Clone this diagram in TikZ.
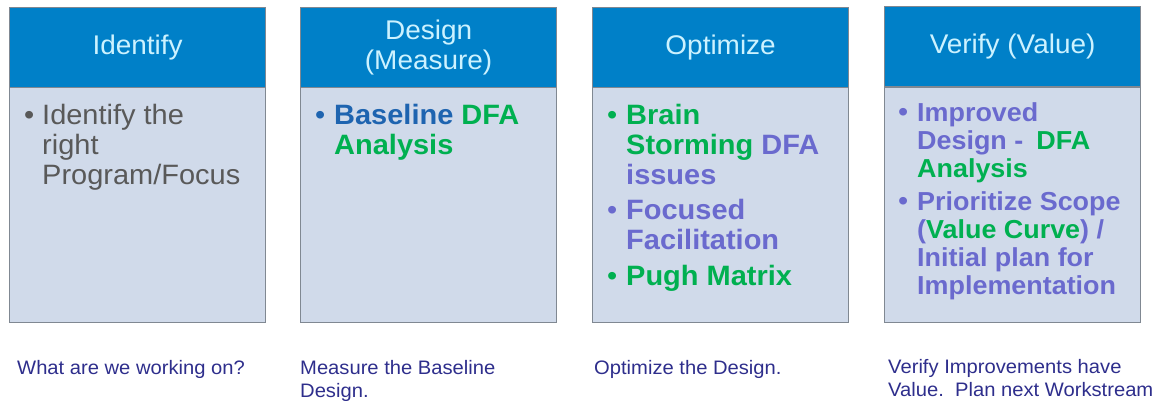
\documentclass[tikz,border=0pt]{standalone}
\usepackage{fontspec}
\setmainfont{Liberation Sans}[FakeStretch=1.035]
\definecolor{hdrblue}{RGB}{0,128,200}
\definecolor{hdrtext}{RGB}{204,242,255}
\definecolor{bodyfill}{RGB}{208,218,234}
\definecolor{frame}{RGB}{128,136,146}
\definecolor{txtgray}{RGB}{89,89,89}
\definecolor{baseblue}{RGB}{30,100,176}
\definecolor{dfagreen}{RGB}{0,176,80}
\definecolor{lilac}{RGB}{106,106,206}
\definecolor{navy}{RGB}{46,46,140}
\begin{document}
\begin{tikzpicture}[x=1pt,y=-1pt,
  hdrbox/.style={draw=frame, fill=hdrblue, line width=1.2pt, anchor=north west,
    minimum width=256, minimum height=80, inner sep=0pt, text=hdrtext, align=center,
    font=\fontsize{27}{30}\selectfont},
  bodybox/.style={draw=frame, fill=bodyfill, line width=1.2pt, anchor=north west,
    minimum width=256, minimum height=235, inner sep=0pt},
  ln/.style={anchor=base west, inner sep=0pt, font=\fontsize{28}{30}\selectfont},
  lb/.style={ln, font=\fontsize{28}{30}\selectfont\bfseries},
  ls/.style={ln, font=\fontsize{26}{28}\selectfont\bfseries},
  captxt/.style={anchor=base west, inner sep=0pt, text=navy, font=\fontsize{19.5}{23}\selectfont}]
\useasboundingbox (0,0) rectangle (1161,400);

% column frames: body panels first, headers on top
\node[bodybox] (b1) at (9,87) {};
\node[bodybox] (b2) at (300,87) {};
\node[bodybox] (b3) at (592,87) {};
\node[bodybox] (b4) at (884,87) {};
\node[hdrbox] (h1) at (9,7) {Identify};
\node[hdrbox] (h2) at (300,7) {Design\\(Measure)};
\node[hdrbox] (h3) at (592,7) {Optimize};
\node[hdrbox] (h4) at (884,6) {Verify (Value)};

% Identify
\node[ln, text=txtgray] (p1) at (24,124) {•};
\node[ln, text=txtgray] (t1a) at (42,124) {Identify the};
\node[ln, text=txtgray] (t1b) at (42,154) {right};
\node[ln, text=txtgray] (t1c) at (42,184) {Program/Focus};

% Design (Measure)
\node[ln, text=baseblue] (p2) at (315,124) {•};
\node[lb] (t2a) at (334,124) {\textcolor{baseblue}{Baseline} \textcolor{dfagreen}{DFA}};
\node[lb, text=dfagreen] (t2b) at (334,154) {Analysis};

% Optimize
\node[ln, text=dfagreen] (p3a) at (607,124) {•};
\node[lb, text=dfagreen] (t3a) at (626,124) {Brain};
\node[lb] (t3b) at (626,154) {\textcolor{dfagreen}{Storming} \textcolor{lilac}{DFA}};
\node[lb, text=lilac] (t3c) at (626,184) {issues};
\node[ln, text=lilac] (p3b) at (607,219) {•};
\node[lb, text=lilac] (t3d) at (626,219) {Focused};
\node[lb, text=lilac] (t3e) at (626,249) {Facilitation};
\node[ln, text=dfagreen] (p3c) at (607,285) {•};
\node[lb, text=dfagreen] (t3f) at (626,285) {Pugh Matrix};

% Verify (Value)
\node[ln, text=lilac] (p4a) at (898,121) {•};
\node[ls, text=lilac] (t4a) at (917,121) {Improved};
\node[ls] (t4b) at (917,149) {\textcolor{lilac}{Design -}\enspace\textcolor{dfagreen}{DFA}};
\node[ls, text=dfagreen] (t4c) at (917,177) {Analysis};
\node[ln, text=lilac] (p4b) at (898,210) {•};
\node[ls, text=lilac] (t4d) at (917,210) {Prioritize Scope};
\node[ls] (t4e) at (917,238) {\textcolor{lilac}{(}\textcolor{dfagreen}{Value Curve}\textcolor{lilac}{) /}};
\node[ls, text=lilac] (t4f) at (917,266) {Initial plan for};
\node[ls, text=lilac] (t4g) at (917,294) {Implementation};

% captions under the columns
\node[captxt] (c1) at (17,374) {What are we working on?};
\node[captxt] (c2a) at (300,374) {Measure the Baseline};
\node[captxt] (c2b) at (300,397) {Design.};
\node[captxt] (c3) at (594,374) {Optimize the Design.};
\node[captxt] (c4a) at (888,373) {Verify Improvements have};
\node[captxt] (c4b) at (888,396) {Value.\ \ Plan next Workstream};
\end{tikzpicture}
\end{document}
